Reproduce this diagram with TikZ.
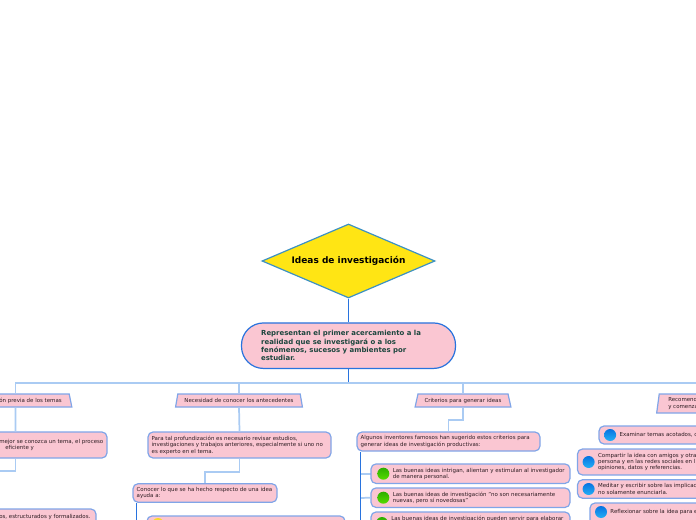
\documentclass[tikz,border=0pt]{standalone}
\usepackage{fontspec}
\setmainfont{DejaVu Sans}
\usepackage{xcolor}
\usetikzlibrary{positioning}
\usetikzlibrary{shapes.geometric}
\definecolor{myyellow}{RGB}{255, 229, 20}
\definecolor{mypink}{RGB}{250, 198, 210}
\definecolor{myborder}{RGB}{128, 165, 232}
\definecolor{mylight}{RGB}{170, 203, 243}
\definecolor{mydark}{RGB}{40, 115, 222}
\definecolor{mytext}{RGB}{45, 28, 34}
\definecolor{myintro}{RGB}{28, 70, 62}
\definecolor{myedge}{RGB}{60, 145, 195}
\definecolor{mygreentop}{RGB}{45, 175, 0}
\definecolor{mygreenbot}{RGB}{85, 220, 0}
\definecolor{mybluetop}{RGB}{8, 115, 225}
\definecolor{mybluebot}{RGB}{35, 175, 245}
\definecolor{myyellowtop}{RGB}{250, 215, 40}
\definecolor{myyellowbot}{RGB}{255, 240, 90}
\def\pxu{0.75pt}
\tikzset{
  card/.style={draw=myborder, fill=mypink, line width=0.9pt, rounded corners=3.75pt, inner sep=0pt},
  cardtext/.style={text=mytext, font=\fontsize{4.1}{4.8}\selectfont, align=left, inner sep=0pt},
  heading/.style={draw=myborder, fill=mypink, line width=0.9pt, shape=trapezium, trapezium stretches=true, trapezium left angle=65, trapezium right angle=65, inner sep=0pt, minimum height=13*\pxu, text=mytext, font=\fontsize{4.1}{4.8}\selectfont},
  link/.style={draw=mylight, line width=1.3pt},
  trunk/.style={draw=mydark, line width=1.4pt},
  greenball/.style={circle, minimum size=12*\pxu, inner sep=0pt, top color=mygreentop, bottom color=mygreenbot},
  blueball/.style={circle, minimum size=12*\pxu, inner sep=0pt, top color=mybluetop, bottom color=mybluebot},
  yellowball/.style={circle, minimum size=12*\pxu, inner sep=0pt, top color=myyellowtop, bottom color=myyellowbot},
}
\begin{document}
\begin{tikzpicture}[x=0.75pt, y=-0.75pt]
\useasboundingbox (0,0) rectangle (696,520);
\clip (0,0) rectangle (696,520);

\coordinate (busmid) at (348.5,383);
\coordinate (necbend) at (205,472);
\coordinate (critbend) at (448.5,420);
\coordinate (prevbend) at (-12,471);
\coordinate (conocerend) at (136.5,530);
\coordinate (critend) at (360.5,530);
\coordinate (critbr1) at (360.5,474);
\coordinate (critbr2) at (360.5,498);
\coordinate (critbr3) at (360.5,522);

\draw[link] (critbr1) -- (371,474);
\node[draw=myedge, fill=myyellow, line width=0.9pt, shape=diamond, aspect=2.33, inner sep=0pt, minimum width=173*\pxu, minimum height=74*\pxu] (title) at (348.5,261) {};
\node[font=\fontsize{6.75}{8}\selectfont\bfseries, inner sep=0pt] (titletext) at (348.5,261) {Ideas de investigación};

\node[draw=mydark, fill=mypink, line width=0.9pt, rounded corners=16.5pt, inner sep=0pt, minimum width=214*\pxu, minimum height=45.5*\pxu] (intro) at (348.5,345.7) {};
\node[right=15pt of intro.west, inner sep=0pt, align=left, text=myintro, font=\fontsize{5.2}{6.3}\selectfont\bfseries] (introtext) {Representan el primer acercamiento a la\\realidad que se investigará o a los\\fenómenos, sucesos y ambientes por\\estudiar.};

\node[heading, minimum width=113*\pxu] (prev) at (15.5,400.5) {\phantom{Necesidad de conocer los ant}};
\node[cardtext, anchor=east] (prevtext) at (62,400.5) {ón previa de los temas};
\node[heading, minimum width=128*\pxu] (nec) at (239,400.5) {Necesidad de conocer los antecedentes};
\node[heading, minimum width=96*\pxu] (crit) at (463,400.5) {Criterios para generar ideas};
\node[heading, minimum height=19*\pxu, minimum width=148*\pxu] (rec) at (730,403.5) {\phantom{Necesidad de conocer los antecedentes}};
\node[cardtext, anchor=west] (rectext) at (668,403.5) {Recomend\\y comenza};

\draw[trunk] (title.south) -- (intro.north);
\draw[trunk] (intro.south) -- (busmid);
\draw[link] (prev.north) |- (busmid);
\draw[link] (rec.north) |- (busmid);
\draw[link] (nec.north) |- (busmid);
\draw[link] (crit.north) |- (busmid);

\node[card, minimum width=183*\pxu, minimum height=26*\pxu] (prevcard) at (15.5,445) {};
\node[cardtext, anchor=west] (prevcardtext) at (-1,445) {mejor se conozca un tema, el proceso\\\hspace{4.5pt}eficiente y};
\node[card, minimum width=216*\pxu, minimum height=22*\pxu] (basecard) at (-12,520) {};
\node[cardtext, anchor=west] (basetext) at (-1,517) {os, estructurados y formalizados.};
\draw[link] (prev.south) -- (prevcard.north);
\draw[link] (prevcard.south) |- (prevbend) -- (basecard.north);

\node[card, minimum width=183*\pxu, minimum height=26*\pxu] (neccard) at (239.5,445) {};
\node[cardtext, right=3pt of neccard.west] (neccardtext) {Para tal profundización es necesario revisar estudios,\\investigaciones y trabajos anteriores, especialmente si uno no\\es experto en el tema.};
\node[card, minimum width=144*\pxu, minimum height=18.5*\pxu] (conocer) at (205,493) {};
\node[cardtext, right=3pt of conocer.west] (conocertext) {Conocer lo que se ha hecho respecto de una idea\\ayuda a:};
\node[card, minimum width=198*\pxu, minimum height=24*\pxu] (ayuda) at (246,528) {};
\node[yellowball] (ayudaball) at (158,524) {};
\draw[link] (nec.south) -- (neccard.north);
\draw[link] (neccard.south) |- (necbend) -- (conocer.north);
\draw[trunk] (conocer.south -| conocerend) -- (conocerend);

\node[card, minimum width=183*\pxu, minimum height=19*\pxu] (critcard) at (448.5,441.5) {};
\node[cardtext, right=3pt of critcard.west] (critcardtext) {Algunos inventores famosos han sugerido estos criterios para\\generar ideas de investigación productivas:};
\node[card, minimum width=199*\pxu, minimum height=19.5*\pxu] (crita) at (470.5,473.7) {};
\node[greenball, right=5pt of crita.west] (critaball) {};
\node[cardtext, right=2.2pt of critaball] (critatext) {Las buenas ideas intrigan, alientan y estimulan al investigador\\de manera personal.};
\node[card, minimum width=199*\pxu, minimum height=19.5*\pxu] (critb) at (470.5,497.7) {};
\node[greenball, right=5pt of critb.west] (critbball) {};
\node[cardtext, right=2.2pt of critbball] (critbtext) {Las buenas ideas de investigación "no son necesariamente\\nuevas, pero sí novedosas"};
\node[card, minimum width=199*\pxu, minimum height=25*\pxu] (critc) at (470.5,524.5) {};
\node[greenball] (critcball) at (382,523) {};
\node[cardtext, anchor=west] (critctext) at (391,518.5) {Las buenas ideas de investigación pueden servir para elaborar};
\draw[link] (crit.south) |- (critbend) -- (critcard.north);
\draw[link] (critbr2) -- (critb.west);
\draw[link] (critbr3) -- (critc.west |- critbr3);
\draw[trunk] (critcard.south -| critend) -- (critend);

\node[card, minimum width=201*\pxu, minimum height=18*\pxu] (exam) at (699.5,435) {};
\node[blueball, right=4.1pt of exam.west] (examball) {};
\node[cardtext, right=2.2pt of examball] (examtext) {Examinar temas acotados, c};
\node[card, minimum width=222*\pxu, minimum height=26*\pxu] (comp) at (688.5,462) {};
\node[blueball, right=4.1pt of comp.west] (compball) {};
\node[cardtext, right=2.2pt of compball] (comptext) {Compartir la idea con amigos y otra\\persona y en las redes sociales en l\\opiniones, datos y referencias.};
\node[card, minimum width=222*\pxu, minimum height=18.5*\pxu] (medi) at (688.5,489) {};
\node[blueball, right=4.1pt of medi.west] (mediball) {};
\node[cardtext, right=2.2pt of mediball] (meditext) {Meditar y escribir sobre las implicac\\no solamente enunciarla.};
\node[card, minimum width=210*\pxu, minimum height=27*\pxu] (refl) at (695,516.5) {};
\node[blueball] (reflball) at (601,512) {};
\node[cardtext, right=2.2pt of reflball] (refltext) {Reflexionar sobre la idea para e};
\end{tikzpicture}
\end{document}
